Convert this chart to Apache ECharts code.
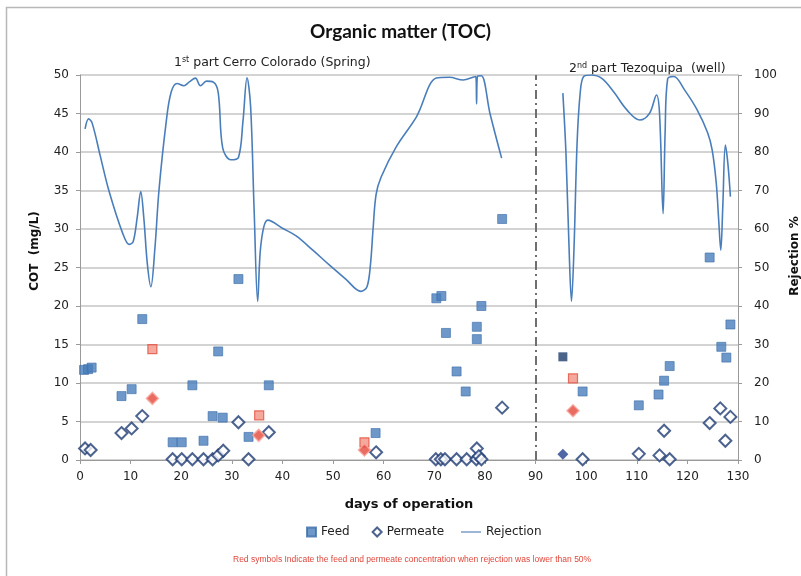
<!DOCTYPE html>
<html>
<head>
<meta charset="utf-8">
<script src="https://cdn.jsdelivr.net/npm/echarts@6/dist/echarts.min.js"></script>
<style>
  html, body { margin: 0; padding: 0; background: #fff; }
  #chart { width: 801px; height: 576px; }
</style>
</head>
<body>
<div id="chart"></div>
<script>
// Days of operation ticks and axis ranges
const dayTicks = [0, 10, 20, 30, 40, 50, 60, 70, 80, 90, 100, 110, 120, 130];
const cotTicks = [0, 5, 10, 15, 20, 25, 30, 35, 40, 45, 50];
const rejectionTicks = [0, 10, 20, 30, 40, 50, 60, 70, 80, 90, 100];

// Feed TOC (mg/L): [day, value]
const feed = [
  [0.8, 11.7], [1.6, 11.8], [2.3, 12.0], [8.2, 8.3], [10.2, 9.2], [12.3, 18.3],
  [18.3, 2.3], [20.1, 2.3], [22.2, 9.7], [24.4, 2.5], [26.2, 5.7], [27.3, 14.1],
  [28.2, 5.5], [31.3, 23.5], [33.3, 3.0], [37.3, 9.7],
  [58.4, 3.5], [70.4, 21.0], [71.4, 21.3], [72.3, 16.5], [74.4, 11.5], [76.2, 8.9],
  [78.4, 17.3], [78.4, 15.7], [79.3, 20.0], [83.4, 31.3],
  [99.3, 8.9], [110.4, 7.1], [114.3, 8.5], [115.4, 10.3], [116.5, 12.2],
  [124.4, 26.3], [126.7, 14.7], [127.7, 13.3], [128.5, 17.6]
];
// Feed values when rejection dropped below 50 %
const feedLowRejection = [[14.3, 14.4], [35.4, 5.8], [56.2, 2.3], [97.4, 10.6]];
// Feed on the first day of the well water
const feedWellStart = [[95.4, 13.4]];

// Permeate TOC (mg/L): [day, value]
const permeate = [
  [1.0, 1.5], [2.1, 1.3], [8.2, 3.5], [10.2, 4.1], [12.3, 5.7],
  [18.3, 0.1], [20.1, 0.1], [22.2, 0.1], [24.4, 0.1], [26.2, 0.1], [27.3, 0.6],
  [28.3, 1.2], [31.3, 4.9], [33.3, 0.1], [37.3, 3.6],
  [58.5, 1.0], [70.3, 0.1], [71.3, 0.1], [72.1, 0.1], [74.4, 0.1], [76.4, 0.1],
  [78.3, 0.1], [78.4, 1.5], [78.8, 0.5], [79.3, 0.1], [83.4, 6.8],
  [99.3, 0.1], [110.4, 0.8], [114.5, 0.6], [115.4, 3.8], [116.5, 0.1],
  [124.4, 4.8], [126.5, 6.7], [127.5, 2.5], [128.5, 5.6]
];
// Permeate values when rejection dropped below 50 %
const permeateLowRejection = [[14.3, 8.0], [35.3, 3.2], [56.2, 1.3], [97.4, 6.4]];
// Permeate on the first day of the well water
const permeateWellStart = [[95.4, 0.74]];

// Rejection (%) – spring water period
const rejectionSpring = [
  [1.0, 86], [1.7, 88.6], [2.4, 87.5], [4.0, 79], [5.7, 70], [8.4, 59], [9.7, 56],
  [10.5, 56.7], [11.3, 63], [12.0, 69.7], [12.6, 63], [13.3, 51], [14.0, 45],
  [14.8, 55], [15.6, 70], [17.0, 87.5], [18.0, 95.5], [19.2, 97.8], [20.5, 97.2],
  [21.6, 98.2], [22.8, 99.2], [23.8, 97.2], [25.0, 98.4], [26.3, 98.2], [27.3, 95.5],
  [28.2, 81], [29.8, 78], [31.3, 78.6], [32.2, 88], [33.0, 99.3], [33.7, 92],
  [34.4, 65], [35.1, 41.2], [35.6, 54], [36.3, 60.5], [37.1, 62.3], [40.0, 60.2],
  [42.7, 58.2], [46.0, 54.5], [49.3, 50.6], [52.5, 47], [55.5, 43.8], [56.7, 45],
  [57.4, 51], [57.9, 60], [58.5, 69], [59.5, 73.5], [62.5, 81.4], [66.5, 89.2],
  [70.4, 99.2], [73.0, 99.4], [75.7, 98.7], [77.8, 99.5], [78.2, 99.6], [78.35, 92.5],
  [78.5, 99.6], [79.3, 99.8], [81.0, 90], [83.3, 78.4]
];
// Rejection (%) – well water period
const rejectionWell = [
  [95.4, 95.3], [96.0, 80], [96.6, 56], [97.1, 41.2], [97.6, 55], [98.2, 82],
  [98.8, 95], [99.5, 99.6], [101.0, 100], [103.1, 99.1], [105.5, 95.5], [108.0, 91],
  [110.6, 88.3], [112.5, 90], [113.9, 94.8], [114.5, 90], [115.2, 64], [115.6, 85],
  [116.1, 99], [117.3, 99.6], [119.5, 96], [121.9, 91], [124.0, 85], [124.9, 80.5],
  [125.7, 72], [126.2, 62], [126.6, 54.5], [127.0, 66], [127.5, 81.8], [128.0, 77],
  [128.5, 68.4]
];

const switchDay = 90;

const blue = '#4a7ebb';
const navy = '#1f3b73';
const gridGray = '#c4c4c4';
const baseFont = 'DejaVu Sans, Verdana, sans-serif';

const chart = echarts.init(document.getElementById('chart'), null, { renderer: 'canvas' });

const option = {
  backgroundColor: '#ffffff',
  animation: false,
  title: {
    text: 'Organic matter (TOC)',
    left: 'center',
    top: 17,
    textStyle: { fontFamily: 'Lato, Open Sans, sans-serif', fontWeight: 'bold', fontSize: 19, color: '#111' }
  },
  grid: { left: 80, right: 63, top: 75, bottom: 116, containLabel: false },
  legend: [
    {
      data: ['Feed', 'Permeate'],
      left: 301, top: 521,
      itemWidth: 9, itemHeight: 9, itemGap: 22,
      textStyle: { fontFamily: baseFont, fontSize: 12, color: '#222' }
    },
    {
      data: [{ name: 'Rejection', icon: 'rect' }],
      left: 456, top: 521,
      itemWidth: 20, itemHeight: 1.5,
      itemStyle: { color: '#7d9cc8' },
      textStyle: { fontFamily: baseFont, fontSize: 12, color: '#222' }
    }
  ],
  xAxis: {
    type: 'value',
    min: dayTicks[0], max: dayTicks[dayTicks.length - 1], interval: 10,
    name: 'days of operation',
    nameLocation: 'middle', nameGap: 38,
    nameTextStyle: { fontFamily: baseFont, fontWeight: 'bold', fontSize: 13, color: '#111' },
    axisLine: { show: true, lineStyle: { color: '#9a9a9a', width: 1 } },
    axisTick: { show: true, length: 4, lineStyle: { color: '#9a9a9a' } },
    axisLabel: { fontFamily: baseFont, fontSize: 12, color: '#222', margin: 11 },
    splitLine: { show: false }
  },
  yAxis: [
    {
      type: 'value',
      min: cotTicks[0], max: cotTicks[cotTicks.length - 1], interval: 5,
      axisLine: { show: true, lineStyle: { color: '#9a9a9a', width: 1 } },
      axisTick: { show: true, length: 4, lineStyle: { color: '#9a9a9a' } },
      axisLabel: { fontFamily: baseFont, fontSize: 12, color: '#222', margin: 11 },
      splitLine: { show: true, lineStyle: { color: gridGray, width: 1.6 } }
    },
    {
      type: 'value',
      min: rejectionTicks[0], max: rejectionTicks[rejectionTicks.length - 1], interval: 10,
      position: 'right',
      axisLine: { show: true, lineStyle: { color: '#9a9a9a', width: 1 } },
      axisTick: { show: true, length: 4, lineStyle: { color: '#9a9a9a' } },
      axisLabel: { fontFamily: baseFont, fontSize: 12, color: '#222', margin: 16 },
      splitLine: { show: false }
    }
  ],
  series: [
    {
      name: 'Rejection',
      type: 'line',
      yAxisIndex: 1,
      data: rejectionSpring,
      smooth: 0.35,
      showSymbol: false,
      symbol: 'none',
      lineStyle: { color: blue, width: 1.6 },
      itemStyle: { color: blue },
      z: 2,
      markLine: {
        silent: true,
        symbol: 'none',
        label: { show: false },
        lineStyle: { color: '#6f6f6f', width: 2, type: [9, 4, 2, 4] },
        data: [{ xAxis: switchDay }]
      }
    },
    {
      name: 'Rejection',
      type: 'line',
      yAxisIndex: 1,
      data: rejectionWell,
      smooth: 0.35,
      showSymbol: false,
      symbol: 'none',
      lineStyle: { color: blue, width: 1.6 },
      itemStyle: { color: blue },
      z: 2
    },
    {
      name: 'Feed',
      type: 'scatter',
      data: feed,
      symbol: 'rect',
      symbolSize: 9,
      itemStyle: { color: blue, borderColor: '#3d6ea8', borderWidth: 0.8 },
      z: 4
    },
    {
      name: 'Permeate',
      type: 'scatter',
      data: permeate,
      symbol: 'diamond',
      symbolSize: 12,
      itemStyle: { color: '#ffffff', borderColor: navy, borderWidth: 2 },
      z: 5
    },
    {
      name: 'Feed (low rejection)',
      type: 'scatter',
      data: feedLowRejection,
      symbol: 'rect',
      symbolSize: 9,
      itemStyle: { color: '#f29384', borderColor: '#e3503f', borderWidth: 1.2 },
      z: 4
    },
    {
      name: 'Permeate (low rejection)',
      type: 'scatter',
      data: permeateLowRejection,
      symbol: 'diamond',
      symbolSize: 12,
      itemStyle: { color: '#e5473a', borderColor: '#f5a49b', borderWidth: 1.5 },
      z: 5
    },
    {
      name: 'Feed (well start)',
      type: 'scatter',
      data: feedWellStart,
      symbol: 'rect',
      symbolSize: 9,
      itemStyle: { color: '#1f3d6b' },
      z: 4
    },
    {
      name: 'Permeate (well start)',
      type: 'scatter',
      data: permeateWellStart,
      symbol: 'diamond',
      symbolSize: 11,
      itemStyle: { color: '#24418f' },
      z: 5
    }
  ],
  graphic: [
    {
      type: 'rect',
      shape: { x: 6.5, y: 7.5, width: 810, height: 590 },
      style: { fill: 'none', stroke: '#b8b8b8', lineWidth: 1.5 },
      silent: true, z: -10
    },
    // Axis titles
    {
      type: 'text',
      x: 35, y: 251, rotation: Math.PI / 2,
      style: {
        text: 'COT  (mg/L)', align: 'center', verticalAlign: 'middle',
        fontFamily: baseFont, fontWeight: 'bold', fontSize: 12, fill: '#111'
      }
    },
    {
      type: 'text',
      x: 795, y: 256, rotation: Math.PI / 2,
      style: {
        text: 'Rejection %', align: 'center', verticalAlign: 'middle',
        fontFamily: baseFont, fontWeight: 'bold', fontSize: 12, fill: '#111'
      }
    },
    // Period labels
    {
      type: 'text',
      left: 174, top: 56,
      style: {
        text: '{n|1}{s|st}{n| part Cerro Colorado (Spring)}',
        rich: {
          n: { fontFamily: baseFont, fontSize: 12.5, fill: '#222', verticalAlign: 'bottom' },
          s: { fontFamily: baseFont, fontSize: 8, fill: '#222', verticalAlign: 'top', padding: [0, 0, 5, 0] }
        }
      }
    },
    {
      type: 'text',
      left: 569, top: 62,
      style: {
        text: '{n|2}{s|nd}{n| part Tezoquipa  (well)}',
        rich: {
          n: { fontFamily: baseFont, fontSize: 12.5, fill: '#222', verticalAlign: 'bottom' },
          s: { fontFamily: baseFont, fontSize: 8, fill: '#222', verticalAlign: 'top', padding: [0, 0, 5, 0] }
        }
      }
    },
    {
      type: 'text',
      left: 233, top: 555,
      style: {
        text: 'Red symbols Indicate the feed and permeate concentration when rejection was lower than 50%',
        fontFamily: 'Liberation Sans, Arial, sans-serif', fontSize: 8.5, fill: '#e0473c'
      }
    }
  ]
};

chart.setOption(option);
</script>
</body>
</html>
